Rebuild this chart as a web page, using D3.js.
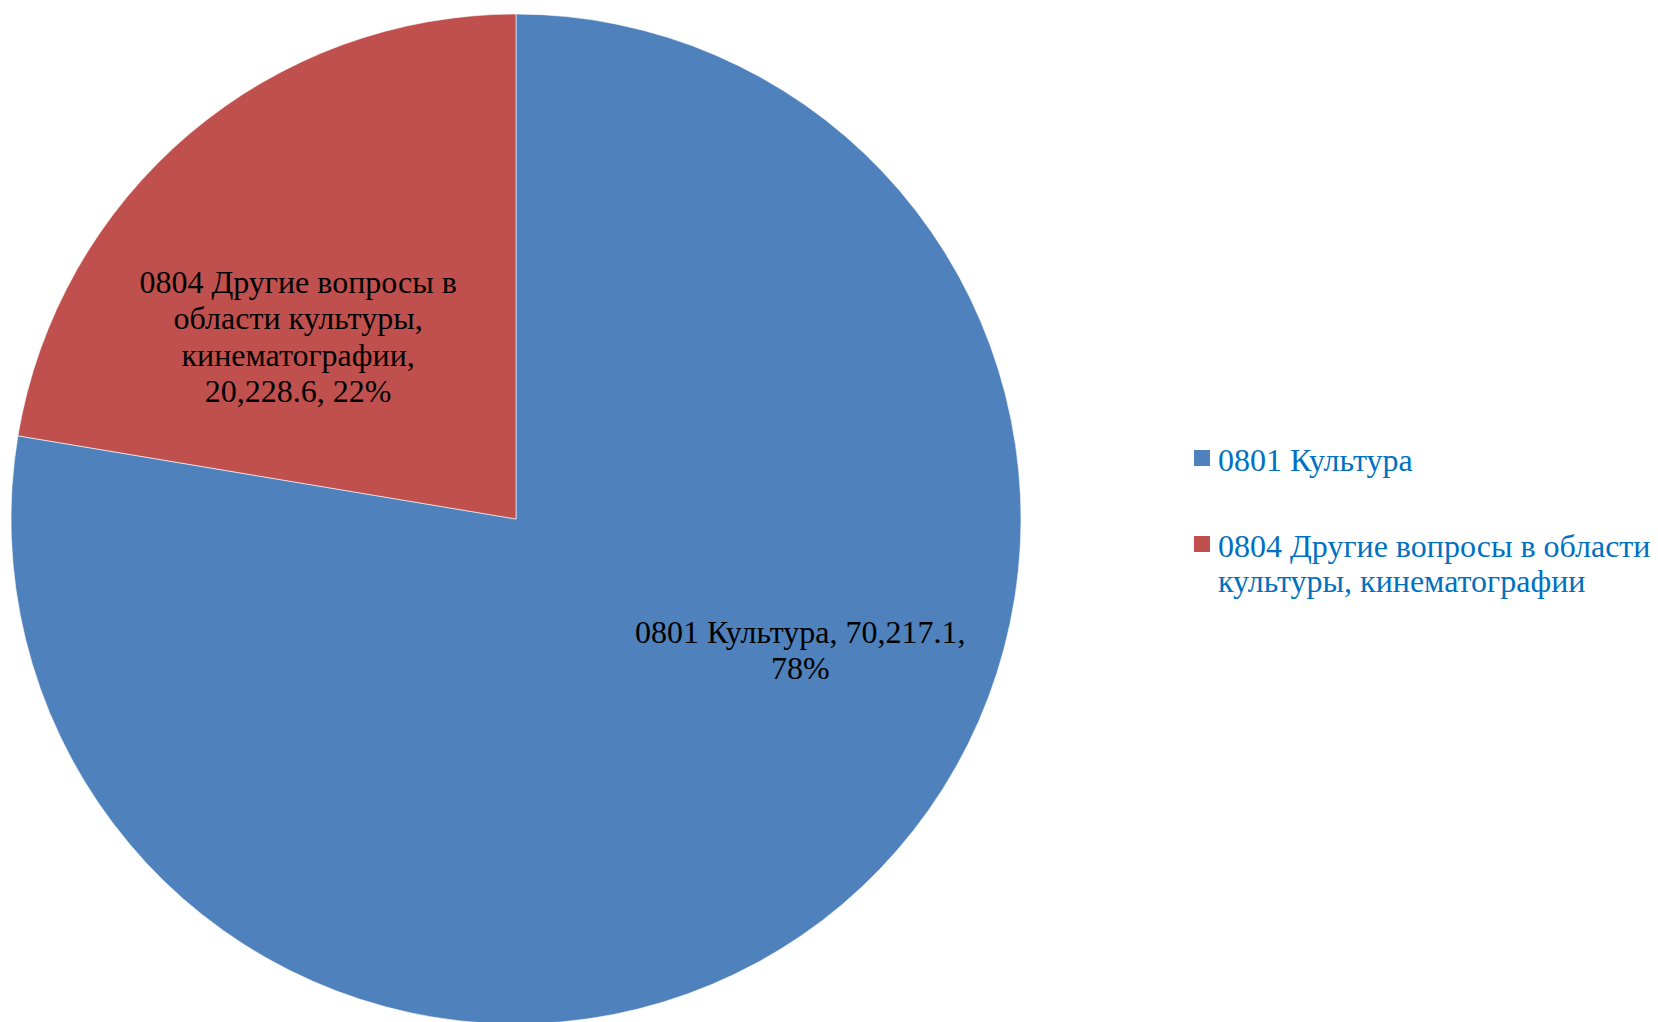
<!DOCTYPE html>
<html>
<head>
<meta charset="utf-8">
<script src="https://cdn.jsdelivr.net/npm/d3@7"></script>
<style>
  html, body { margin: 0; padding: 0; background: #fff; }
  svg { display: block; }
</style>
</head>
<body>
<svg id="chart" width="1658" height="1022"></svg>
<script>
// ---- data ----
const categories = ["0801 Культура", "0804 Другие вопросы в области культуры, кинематографии"];
const values = [70217.1, 20228.6];
const valueLabels = ["70,217.1", "20,228.6"];
const percentLabels = ["78%", "22%"];
// label lines as shown in the chart
const dataLabelLines = [
  ["0801 Культура, 70,217.1,", "78%"],
  ["0804 Другие вопросы в", "области культуры,", "кинематографии,", "20,228.6, 22%"]
];
const legendLines = [
  ["0801 Культура"],
  ["0804 Другие вопросы в области", "культуры, кинематографии"]
];

// ---- layout / style ----
const colors = ["#4F81BD", "#C0504D"];
const W = 1658, H = 1022;
const cx = 516, cy = 519, R = 505;
const fontFamily = "'Liberation Serif', 'Times New Roman', serif";
const fontSize = 32;
const lineH = 36.5;
// label anchor placement (angle in radians clockwise from top, fraction of radius)
const labelPlace = [
  { angle: 114.8 * Math.PI / 180, frac: 0.62 },
  { angle: -50.1 * Math.PI / 180, frac: 0.5624 }
];

const svg = d3.select("#chart");
const g = svg.append("g").attr("transform", `translate(${cx},${cy})`);

const data = categories.map((c, i) => ({ name: c, value: values[i], idx: i }));

const pie = d3.pie().value(d => d.value).sort(null).startAngle(0).endAngle(2 * Math.PI);
const arcs = pie(data);
const arc = d3.arc().innerRadius(0).outerRadius(R);

g.selectAll("path.slice")
  .data(arcs)
  .join("path")
  .attr("class", "slice")
  .attr("d", arc)
  .attr("fill", d => colors[d.data.idx])
  .attr("stroke", "#ffffff")
  .attr("stroke-width", 0.6);

// data labels
arcs.forEach((a, i) => {
  const p = labelPlace[i];
  const x = Math.sin(p.angle) * R * p.frac;
  const y = -Math.cos(p.angle) * R * p.frac;
  const lines = dataLabelLines[i];
  const t = g.append("text")
    .attr("text-anchor", "middle")
    .attr("font-family", fontFamily)
    .attr("font-size", fontSize)
    .attr("fill", "#000");
  const offset = -((lines.length - 1) * lineH) / 2 + fontSize * 0.33;
  lines.forEach((ln, k) => {
    t.append("tspan")
      .attr("x", x)
      .attr("y", y + offset + k * lineH)
      .text(ln);
  });
});

// legend
const legendX = 1194, legendTextX = 1218;
const legendBaselines = [471, 557];
const leg = svg.append("g");
legendLines.forEach((lines, i) => {
  const by = legendBaselines[i];
  leg.append("rect")
    .attr("x", legendX)
    .attr("y", by - 21)
    .attr("width", 16)
    .attr("height", 16)
    .attr("fill", colors[i]);
  const t = leg.append("text")
    .attr("font-family", fontFamily)
    .attr("font-size", fontSize)
    .attr("fill", "#0070C0");
  lines.forEach((ln, k) => {
    t.append("tspan").attr("x", legendTextX).attr("y", by + k * 34.5).text(ln);
  });
});
</script>
</body>
</html>
